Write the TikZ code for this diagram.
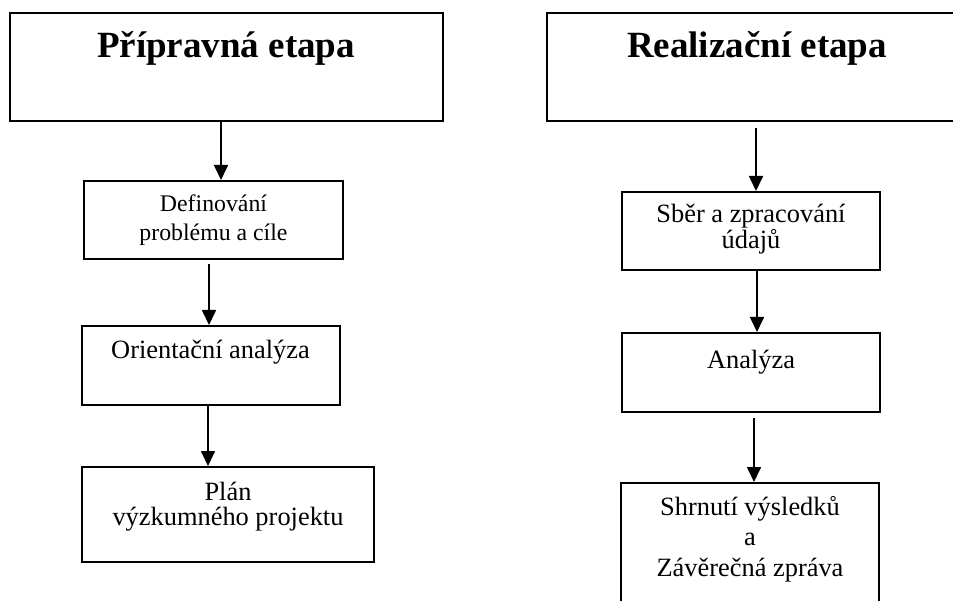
\documentclass[tikz,border=0pt]{standalone}
\usepackage{fontspec}
\setmainfont{Liberation Serif}
\usetikzlibrary{arrows.meta,calc}
\tikzset{
  box/.style={draw=black, line width=2pt, rectangle, inner sep=0pt},
  title/.style={font=\fontsize{37}{40}\selectfont\bfseries, anchor=base, inner sep=0pt},
  txt/.style={align=center, anchor=base, inner sep=0pt},
  arr/.style={line width=1.7pt, -{Triangle[width=14pt,length=15pt]}}
}
\begin{document}
\begin{tikzpicture}[x=1pt,y=-1pt]
\useasboundingbox (0,0) rectangle (953,601);
\clip (0,0) rectangle (953,601);
% large stage boxes
\node[box, minimum width=433pt, minimum height=108pt] (pr) at (226.5,67) {};
\node[box, minimum width=420pt, minimum height=108pt] (re) at (757,67) {};
\node[title] (tpr) at ($(pr.north)+(-0.5,46)$) {Přípravná etapa};
\node[title] (tre) at ($(re.north)+(0,46)$) {Realizační etapa};
% left column
\node[box, minimum width=259pt, minimum height=78pt] (d1) at (213.5,220) {};
\node[box, minimum width=258pt, minimum height=79pt] (d2) at (211,365.5) {};
\node[box, minimum width=292pt, minimum height=95pt] (d3) at (228,514.5) {};
\node[txt, font=\fontsize{23.8}{29}\selectfont] (td1) at ($(d1.north)+(0,61)$) {Definování\\problému a cíle};
\node[txt, font=\fontsize{26.4}{29}\selectfont] (td2) at ($(d2.north)+(-0.5,34)$) {Orientační analýza};
\node[txt, font=\fontsize{26.4}{25.5}\selectfont] (td3) at ($(d3.north)+(0,59.5)$) {Plán\\výzkumného projektu};
% right column
\node[box, minimum width=258pt, minimum height=78pt] (r1) at (751,231) {};
\node[box, minimum width=258pt, minimum height=79pt] (r2) at (751,372.5) {};
\node[box, minimum width=258pt, minimum height=157pt] (r3) at (750,561.5) {};
\node[txt, font=\fontsize{26.4}{26}\selectfont] (tr1) at ($(r1.north)+(0,58)$) {Sběr a zpracování\\údajů};
\node[txt, font=\fontsize{26.4}{29}\selectfont] (tr2) at ($(r2.north)+(0,36.5)$) {Analýza};
\node[txt, font=\fontsize{26.4}{30.5}\selectfont] (tr3) at ($(r3.north)+(0,94)$) {Shrnutí výsledků\\a\\Závěrečná zpráva};
% connectors
\draw[arr] ($(pr.south)+(-5.5,0)$) -- ($(d1.north)+(7.5,0)$);
\draw[arr] ($(d1.south)+(-4.5,4)$) -- ($(d2.north)+(-2,0)$);
\draw[arr] ($(d2.south)+(-3,0)$) -- ($(d3.north)+(-20,0)$);
\draw[arr] ($(re.south)+(-1,6)$) -- ($(r1.north)+(5,0)$);
\draw[arr] ($(r1.south)+(6,0)$) -- ($(r2.north)+(6,0)$);
\draw[arr] ($(r2.south)+(3,5)$) -- ($(r3.north)+(4,0)$);
\end{tikzpicture}
\end{document}
